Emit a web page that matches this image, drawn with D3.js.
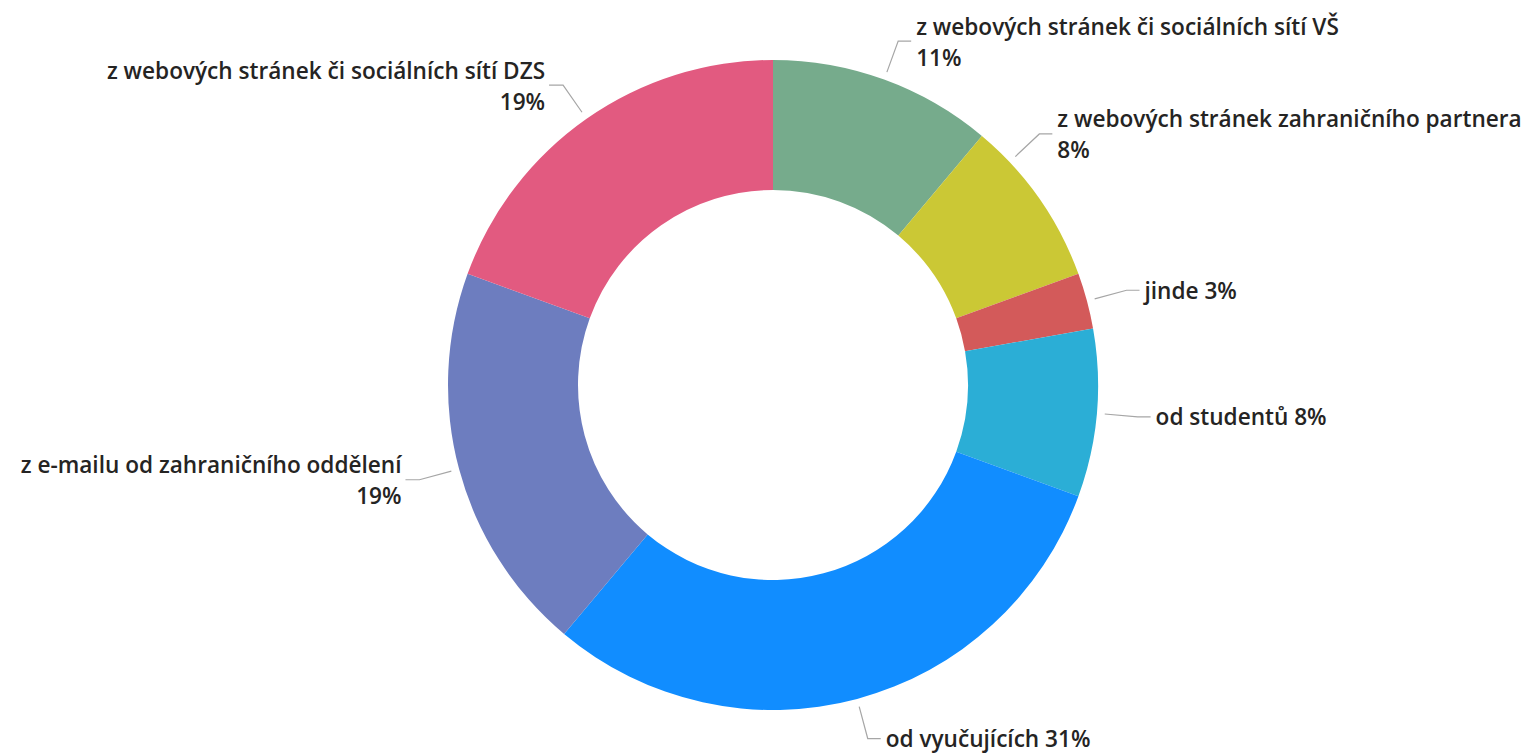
<!DOCTYPE html>
<html>
<head>
<meta charset="utf-8">
<script src="https://cdn.jsdelivr.net/npm/d3@7"></script>
<style>
  body { margin: 0; background: #fff; }
  svg text { font-family: "Open Sans", "Segoe UI", sans-serif; font-weight: 600; fill: #252423; }
</style>
</head>
<body>
<div id="chart"></div>
<script>
// slice names, clockwise from 12 o'clock
var categories = [
  'z webových stránek či sociálních sítí VŠ',
  'z webových stránek zahraničního partnera',
  'jinde',
  'od studentů',
  'od vyučujících',
  'z e-mailu od zahraničního oddělení',
  'z webových stránek či sociálních sítí DZS'
];
// number of answers
var counts = [4, 3, 1, 3, 11, 7, 7];
var colors = ['#76AB8C', '#CBC835', '#D35A5A', '#2BAED6', '#118DFF', '#6D7DBF', '#E25A80'];

var width = 1527, height = 754;
var cx = 773, cy = 385, outerR = 325, innerR = 195;
var fontSize = 22.6;

var data = categories.map(function (c, i) { return { name: c, value: counts[i], color: colors[i] }; });
var total = d3.sum(counts);

var svg = d3.select('#chart').append('svg')
  .attr('width', width)
  .attr('height', height);

var g = svg.append('g').attr('transform', 'translate(' + cx + ',' + cy + ')');

var pie = d3.pie().sort(null).value(function (d) { return d.value; });
var arc = d3.arc().innerRadius(innerR).outerRadius(outerR);
var arcs = pie(data);

g.selectAll('path.slice')
  .data(arcs).enter().append('path')
  .attr('class', 'slice')
  .attr('d', arc)
  .attr('fill', function (d) { return d.data.color; });

// labels
var startArc = d3.arc().innerRadius(outerR + 8).outerRadius(outerR + 8);
var elbowArc = d3.arc().innerRadius(outerR + 41).outerRadius(outerR + 41);

arcs.forEach(function (d) {
  var pct = Math.round(d.data.value / total * 100) + '%';
  var twoLines = d.data.name.length > 25;
  var lines = twoLines ? [d.data.name, pct] : [d.data.name + ' ' + pct];
  var mid = (d.startAngle + d.endAngle) / 2;
  var right = mid < Math.PI;

  var lbl = g.append('g');
  var txt = lbl.append('text')
    .attr('font-size', fontSize + 'px')
    .attr('text-anchor', right ? 'start' : 'end');
  lines.forEach(function (l) { txt.append('tspan').text(l); });
  // widest line
  var w = d3.max(txt.selectAll('tspan').nodes(), function (n) { return n.getComputedTextLength(); });

  // move the label up the ring when it would run off the right edge
  var a = mid;
  var pos = function (ang) {
    return elbowArc.centroid({ startAngle: ang, endAngle: ang });
  };
  var e = pos(a);
  while (right && cx + e[0] + 18 + w > width - 5 && a > 0.05) {
    a -= 0.005;
    e = pos(a);
  }
  var s = startArc.centroid({ startAngle: a, endAngle: a });
  var ex = e[0] + (right ? 13 : -14);

  lbl.insert('polyline', 'text')
    .attr('points', [s, e, [ex, e[1]]].map(function (p) { return p.join(','); }).join(' '))
    .attr('fill', 'none')
    .attr('stroke', '#a6a6a6')
    .attr('stroke-width', 1.2);

  var tx = ex + (right ? 5 : -4);
  txt.attr('x', tx);
  txt.selectAll('tspan')
    .attr('x', tx)
    .attr('y', function (t, i) {
      if (!twoLines) return e[1];
      return e[1] + (i === 0 ? -15 : 16);
    })
    .attr('dominant-baseline', 'central');
});
</script>
</body>
</html>
